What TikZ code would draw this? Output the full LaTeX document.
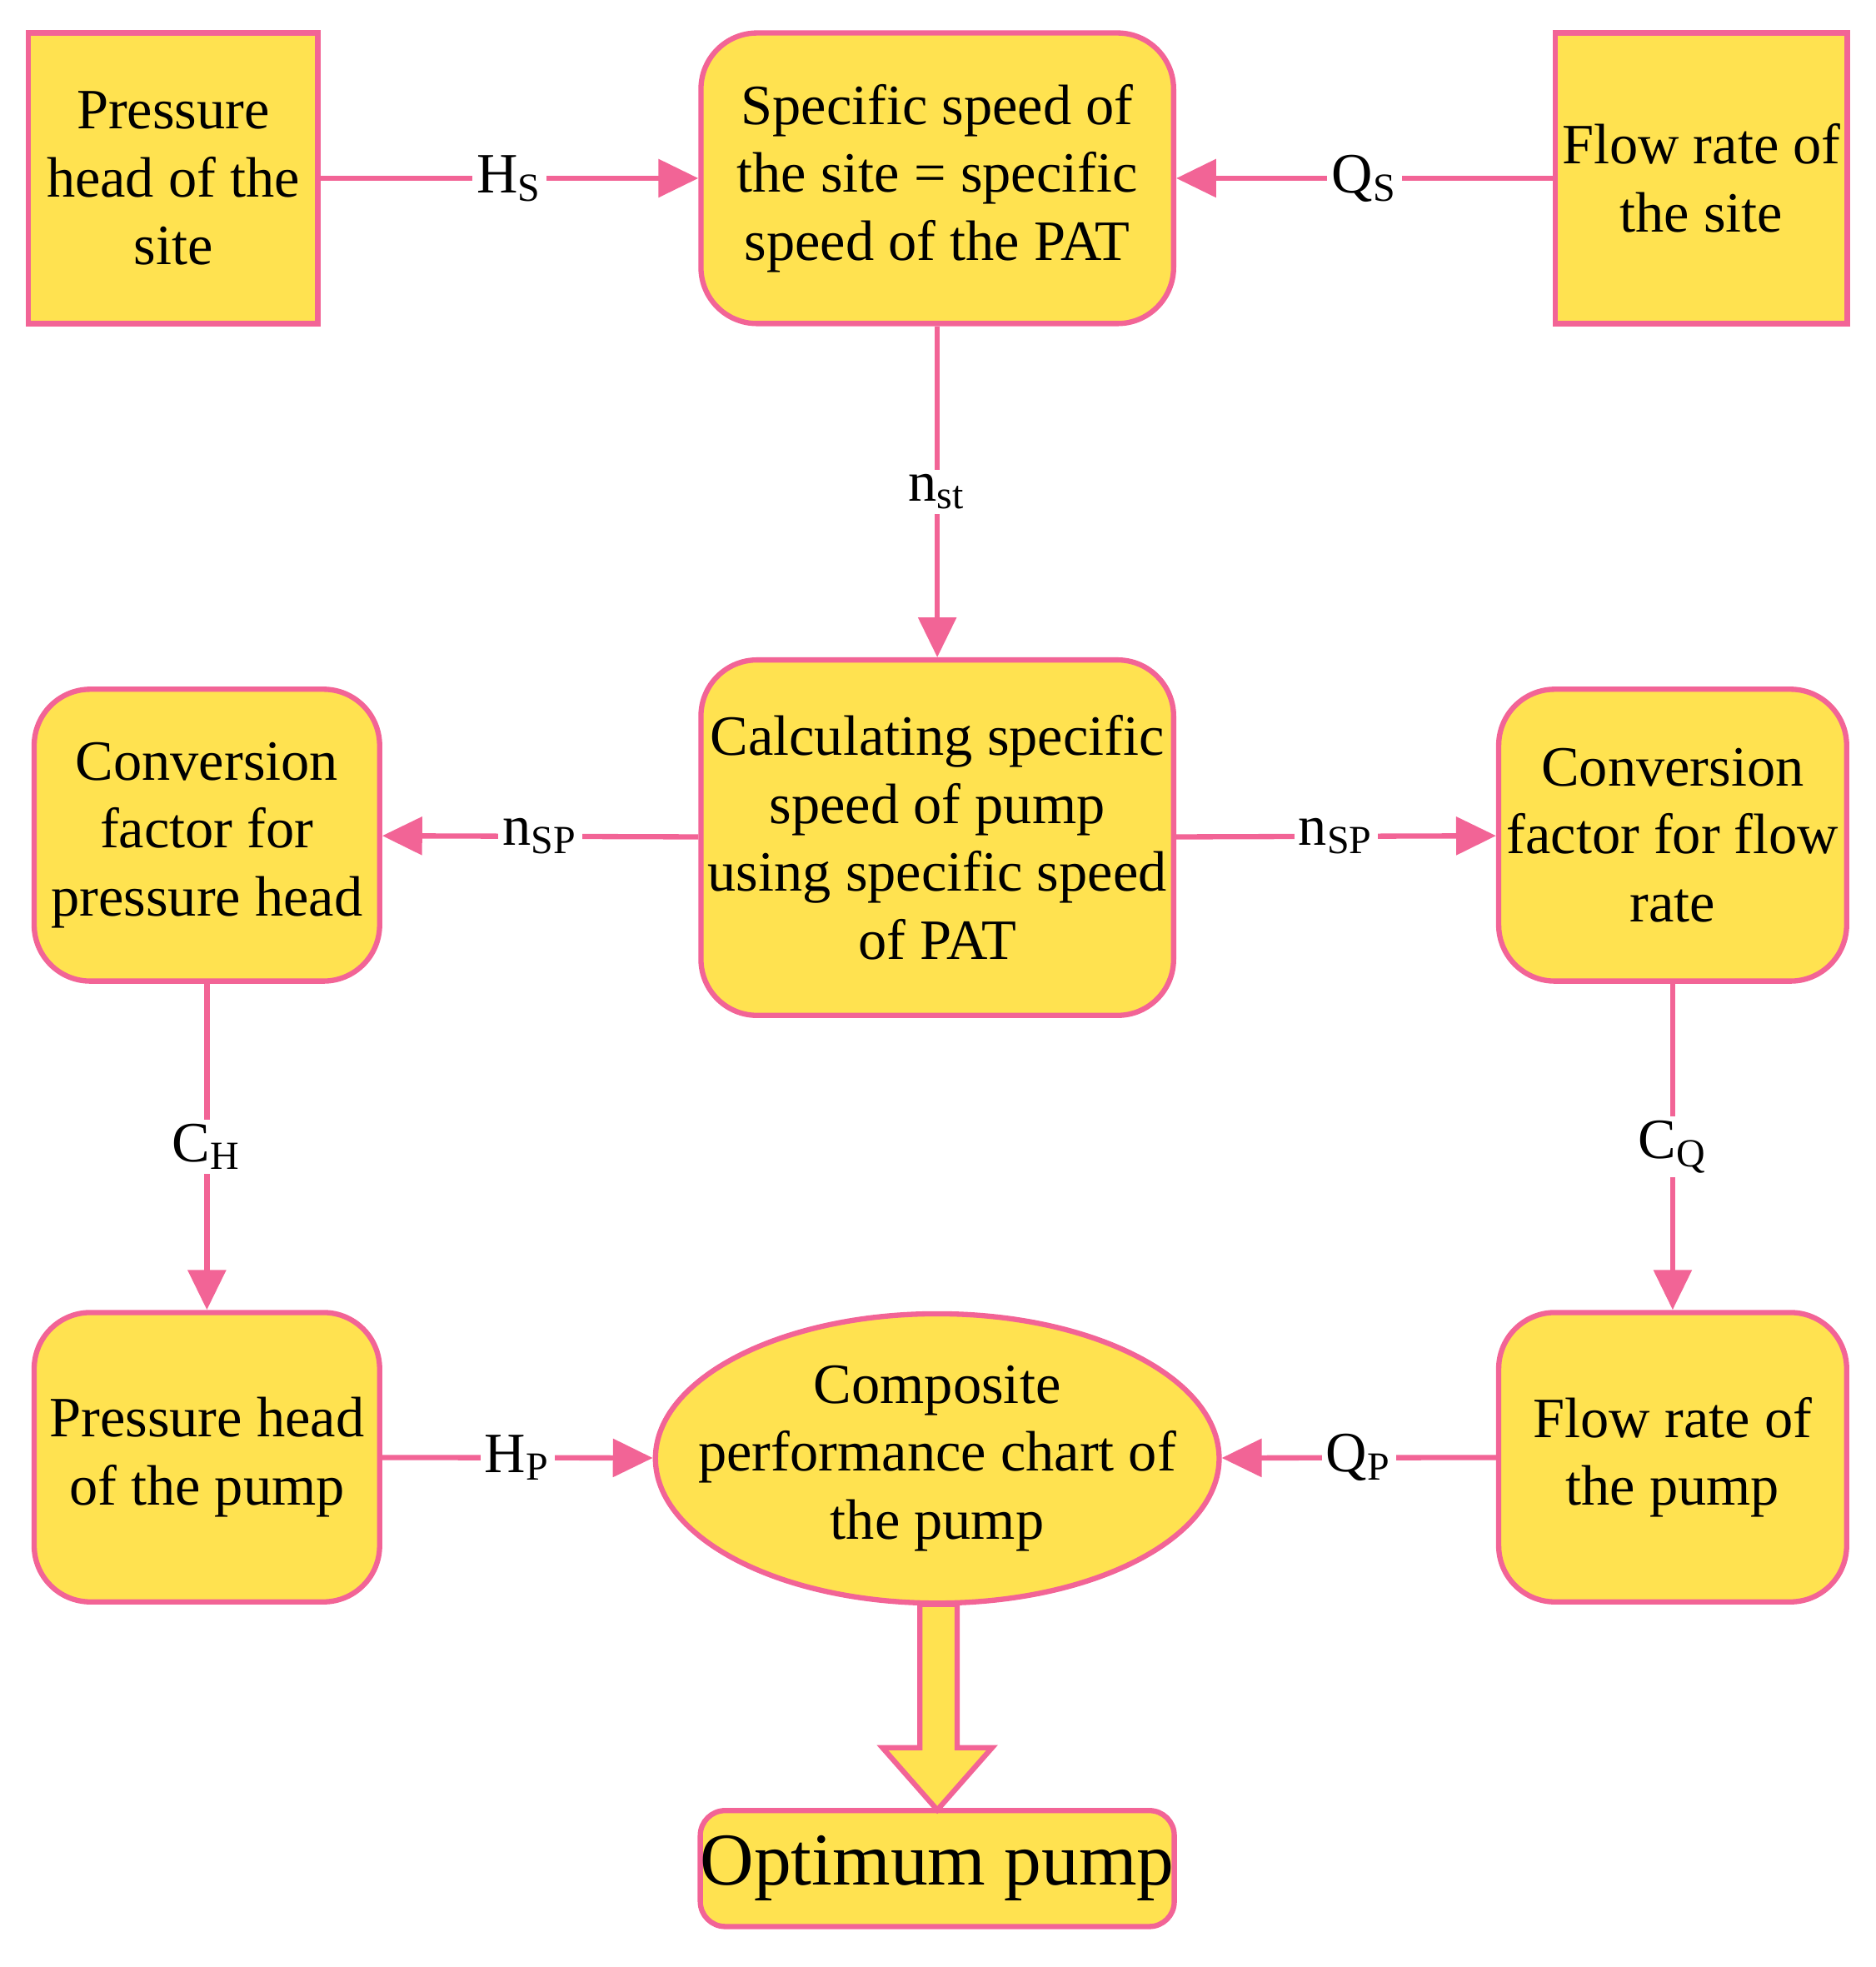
\documentclass[tikz,border=0pt]{standalone}
\usepackage{fontspec}
\setmainfont{Liberation Serif}
\usetikzlibrary{shapes.geometric,arrows.meta}
\definecolor{pk}{RGB}{242,100,150}
\definecolor{yl}{RGB}{255,226,80}
\begin{document}
\begin{tikzpicture}[x=0.01cm,y=-0.01cm,
 box/.style={draw=pk,line width=1.2pt,fill=yl,align=center,inner sep=0pt,font=\fontsize{13}{15.5}\selectfont},
 rbox/.style={box,rounded corners=0.45cm},
 ed/.style={draw=pk,line width=1.2pt,-{Triangle[length=0.32cm,width=0.3cm]}},
 lb/.style={fill=white,inner sep=1pt,font=\fontsize{13}{15}\selectfont}]
\useasboundingbox (0,0) rectangle (1505,1578);
\node[box,minimum width=2.32cm,minimum height=2.33cm] (A) at (139,143) {Pressure\\head of the\\site};
\node[rbox,minimum width=3.79cm,minimum height=2.33cm] (B) at (752,143) {Specific speed of\\the site = specific\\speed of the PAT};
\node[box,minimum width=2.34cm,minimum height=2.33cm] (C) at (1365,143) {Flow rate of\\the site};
\node[rbox,minimum width=3.79cm,minimum height=2.85cm] (D) at (752,672) {Calculating specific\\speed of pump\\using specific speed\\of PAT};
\node[rbox,minimum width=2.77cm,minimum height=2.34cm] (E) at (166,670) {Conversion\\factor for\\pressure head};
\node[rbox,minimum width=2.79cm,minimum height=2.34cm] (F) at (1342,670) {Conversion\\factor for flow\\rate};
\node[rbox,minimum width=2.77cm,minimum height=2.32cm] (G) at (166,1169) {Pressure head\\of the pump};
\node[box,ellipse,inner sep=-14pt,minimum width=4.52cm,minimum height=2.32cm] (H) at (752,1170) {Composite\\performance chart of\\the pump};
\node[rbox,minimum width=2.79cm,minimum height=2.32cm] (I) at (1342,1169) {Flow rate of\\the pump};
\node[rbox,rounded corners=0.2cm,minimum width=3.67cm,minimum height=0.93cm,font=\fontsize{17}{21}\selectfont] (J) at (752,1499) {Optimum pump};
\draw[ed] (A) -- node[lb]{H\textsubscript{S}} (B);
\draw[ed] (C) -- node[lb]{Q\textsubscript{S}} (B);
\draw[ed] (B) -- node[lb]{n\textsubscript{st}} (D);
\draw[ed] (D) -- node[lb,pos=0.5]{n\textsubscript{SP}} (E);
\draw[ed] (D) -- node[lb,pos=0.5]{n\textsubscript{SP}} (F);
\draw[ed] (E) -- node[lb]{C\textsubscript{H}} (G);
\draw[ed] (F) -- node[lb]{C\textsubscript{Q}} (I);
\draw[ed] (G) -- node[lb]{H\textsubscript{P}} (H);
\draw[ed] (I) -- node[lb]{Q\textsubscript{P}} (H);
\draw[draw=pk,fill=yl,line width=1.2pt] (738,1287) -- (738,1402) -- (708,1402) -- (752,1452) -- (796,1402) -- (768,1402) -- (768,1287) -- cycle;
\end{tikzpicture}
\end{document}
